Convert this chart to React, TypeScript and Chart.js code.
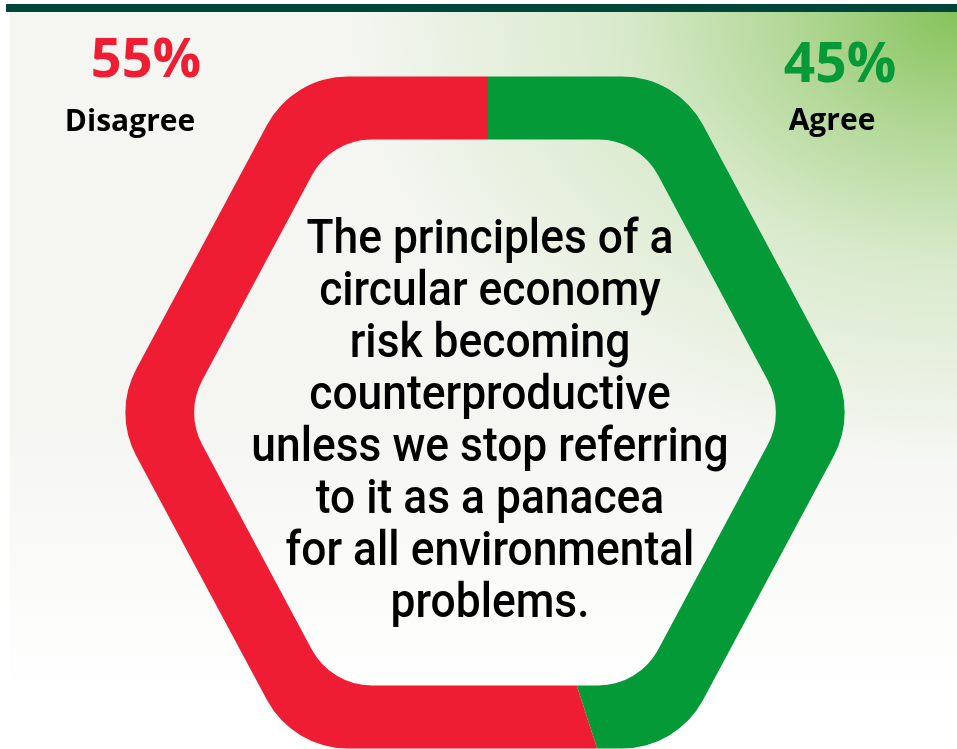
import React, { useEffect, useRef } from "react";
import { Chart, registerables } from "chart.js";

Chart.register(...registerables);

// ---- data ----
const categories = ["Agree", "Disagree"];
const values = [45, 55];
const sliceColors = ["#039a37", "#ee1d34"];
const questionLines = [
  "The principles of a",
  "circular economy",
  "risk becoming",
  "counterproductive",
  "unless we stop referring",
  "to it as a panacea",
  "for all environmental",
  "problems.",
];

// ---- hexagon ring geometry (relative to the doughnut centre) ----
const OUTER = { halfH: 336, side: 372, top: 192, r: 92 };
const INNER = { halfH: 273, side: 300, top: 154, r: 68 };
const HEX_SHIFT_X = -3;

type Geo = { halfH: number; side: number; top: number; r: number };

function hexPath(ctx: CanvasRenderingContext2D, cx: number, cy: number, g: Geo) {
  const pts = [
    [cx - g.side, cy],
    [cx - g.top, cy - g.halfH],
    [cx + g.top, cy - g.halfH],
    [cx + g.side, cy],
    [cx + g.top, cy + g.halfH],
    [cx - g.top, cy + g.halfH],
  ];
  const n = pts.length;
  ctx.moveTo((pts[0][0] + pts[1][0]) / 2, (pts[0][1] + pts[1][1]) / 2);
  for (let i = 1; i <= n; i++) {
    const p = pts[i % n];
    const q = pts[(i + 1) % n];
    ctx.arcTo(p[0], p[1], q[0], q[1], g.r);
  }
  ctx.closePath();
}

const hexClip = {
  id: "hexClip",
  beforeDatasetsDraw(chart: any) {
    const arc = chart.getDatasetMeta(0).data[0];
    if (!arc) return;
    const ctx = chart.ctx as CanvasRenderingContext2D;
    const cx = arc.x + HEX_SHIFT_X;
    const cy = arc.y;
    ctx.save();
    ctx.beginPath();
    hexPath(ctx, cx, cy, OUTER);
    hexPath(ctx, cx, cy, INNER);
    ctx.clip("evenodd");
  },
  afterDatasetsDraw(chart: any) {
    chart.ctx.restore();
  },
};

type LabelProps = {
  text: string;
  cx: number;
  baseline: number;
  size: number;
  color: string;
  family: string;
  weight: number;
  baseRatio: number;
  scaleX?: number;
};

function Label({ text, cx, baseline, size, color, family, weight, baseRatio, scaleX = 1 }: LabelProps) {
  return (
    <div
      style={{
        position: "absolute",
        left: cx,
        top: baseline - baseRatio * size,
        fontFamily: family,
        fontWeight: weight,
        fontSize: size,
        lineHeight: `${size}px`,
        color,
        whiteSpace: "nowrap",
        transform: `translateX(-50%) scaleX(${scaleX})`,
      }}
    >
      {text}
    </div>
  );
}

const OPEN = "'Open Sans', sans-serif";
const ROBOTO = "Roboto, sans-serif";
const OPEN_BASE = 0.888;
const ROBOTO_BASE = 0.842;

export default function App() {
  const canvasRef = useRef<HTMLCanvasElement | null>(null);

  useEffect(() => {
    if (!canvasRef.current) return;
    const chart = new Chart(canvasRef.current, {
      type: "doughnut",
      data: {
        labels: categories,
        datasets: [
          {
            data: values,
            backgroundColor: sliceColors,
            borderWidth: 0,
            radius: 430,
            cutout: 200,
          } as any,
        ],
      },
      options: {
        animation: false,
        responsive: true,
        maintainAspectRatio: false,
        rotation: 0,
        events: [],
        layout: { padding: { left: 19, right: 0, top: 76, bottom: 0 } },
        plugins: {
          legend: { display: false },
          tooltip: { enabled: false },
        },
      },
      plugins: [hexClip],
    });
    return () => chart.destroy();
  }, []);

  return (
    <div style={{ position: "absolute", left: 0, top: 0, width: 957, height: 749, background: "#ffffff", overflow: "hidden" }}>
      <div
        style={{
          position: "absolute",
          left: 10,
          top: 12,
          width: 947,
          height: 737,
          background: [
            "linear-gradient(to bottom, rgba(255,255,255,0) 0%, rgba(255,255,255,0) 55%, #ffffff 93%)",
            "radial-gradient(ellipse 72% 68% at 100% 0%, #86c35b 0%, #b3d898 25%, #d9eacc 50%, rgba(238,243,233,0) 90%)",
            "#f5f6f2",
          ].join(","),
        }}
      />
      <div style={{ position: "absolute", left: 6, top: 4, width: 951, height: 8, background: "#00463a" }} />
      <div style={{ position: "absolute", left: 0, top: 0, width: 957, height: 749 }}>
        <canvas ref={canvasRef} />
      </div>
      <Label text={`${values[1]}%`} cx={146} baseline={77} size={54} color={sliceColors[1]} family={OPEN} weight={700} baseRatio={OPEN_BASE} />
      <Label text={categories[1]} cx={130} baseline={132} size={30} color="#000" family={OPEN} weight={700} baseRatio={OPEN_BASE} />
      <Label text={`${values[0]}%`} cx={840} baseline={82} size={55} color={sliceColors[0]} family={OPEN} weight={700} baseRatio={OPEN_BASE} />
      <Label text={categories[0]} cx={832} baseline={131} size={30} color="#000" family={OPEN} weight={700} baseRatio={OPEN_BASE} />
      {questionLines.map((line, i) => (
        <Label
          key={i}
          text={line}
          cx={490}
          baseline={253 + i * 52}
          size={49}
          color="#000"
          family={ROBOTO}
          weight={500}
          baseRatio={ROBOTO_BASE}
          scaleX={0.905}
        />
      ))}
    </div>
  );
}
